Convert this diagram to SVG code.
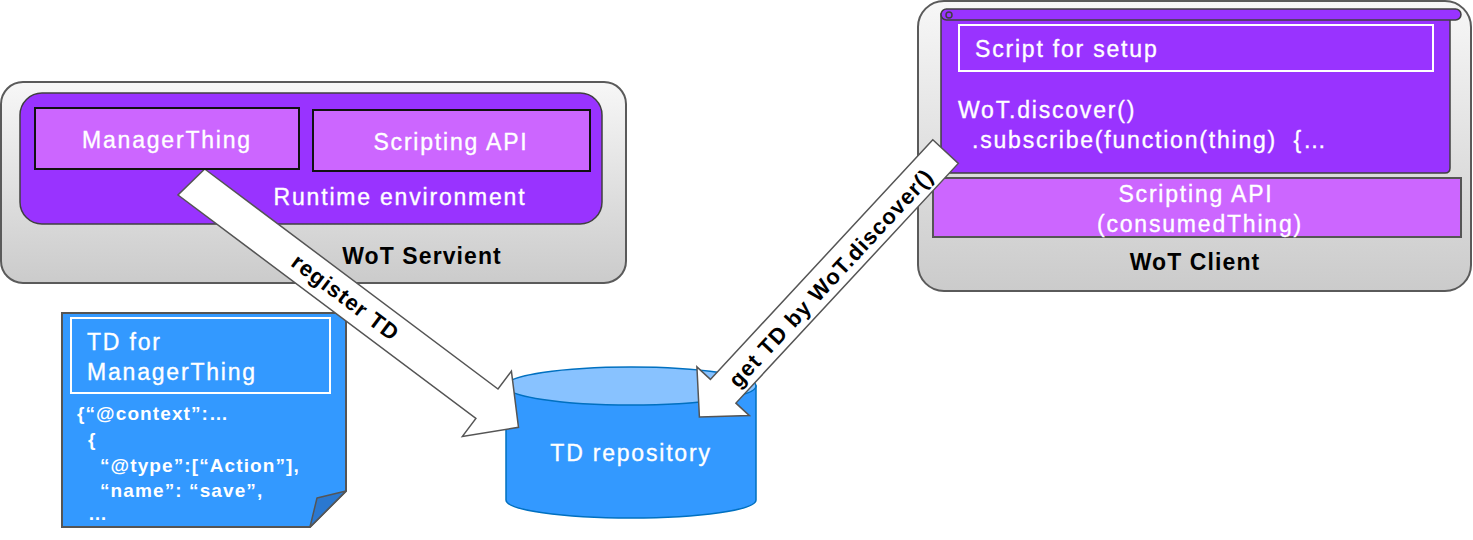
<svg xmlns="http://www.w3.org/2000/svg" width="1473" height="540" viewBox="0 0 1473 540">
<defs>
<linearGradient id="gray" x1="0" y1="0" x2="0" y2="1">
<stop offset="0" stop-color="#f7f7f7"/>
<stop offset="1" stop-color="#cbcbcb"/>
</linearGradient>
<style>
.outer{fill:url(#gray);stroke:#5a5a5a;stroke-width:2}
.dark{fill:#9933ff;stroke:#404040;stroke-width:1.5}
.light{fill:#cc66ff;stroke:#111;stroke-width:2}
.t{font-family:"Liberation Sans",Arial,sans-serif;font-size:23px;letter-spacing:1.8px;fill:#fff;stroke:#fff;stroke-width:0.35}
.b{font-family:"Liberation Sans",Arial,sans-serif;font-size:23px;font-weight:bold;letter-spacing:1.1px;fill:#000}
.code{font-family:"Liberation Sans",Arial,sans-serif;font-size:19px;font-weight:bold;letter-spacing:1.1px;fill:#fff}
.arrow{fill:#fff;stroke:#555;stroke-width:1.5;stroke-linejoin:miter}
.at{font-family:"Liberation Sans",Arial,sans-serif;font-size:22px;font-weight:bold;letter-spacing:1.1px;fill:#000}
</style>
</defs>
<rect width="1473" height="540" fill="#fff"/>

<g id="wot-servient">
<rect class="outer" x="1" y="82" width="625" height="201" rx="22"/>
<rect class="dark" x="20" y="93" width="582" height="131" rx="22"/>
<text class="b" x="422" y="264" text-anchor="middle">WoT Servient</text>
<text class="t" x="400" y="205" text-anchor="middle">Runtime environment</text>
</g>

<g id="scripting-api-servient">
<rect class="light" x="313" y="110" width="277" height="61"/>
<text class="t" x="451" y="150" text-anchor="middle">Scripting API</text>
</g>

<g id="wot-client">
<rect class="outer" x="918" y="1" width="553" height="290" rx="26"/>
<path class="dark" d="M941,14 H1450 V168 Q1450,173 1445,173 H941 Z"/>
<rect class="dark" x="941" y="9" width="520" height="11" rx="5.5"/>
<circle cx="949" cy="15" r="3" fill="none" stroke="#404040" stroke-width="1.5"/>
<rect x="959" y="25" width="474" height="46" fill="none" stroke="#fff" stroke-width="2"/>
<text class="t" x="975" y="57">Script for setup</text>
<text class="t" x="958" y="118">WoT.discover()</text>
<text class="t" x="972" y="148" xml:space="preserve">.subscribe(function(thing)  {…</text>
<rect x="933" y="178" width="528" height="59" fill="#cc66ff" stroke="#555" stroke-width="2"/>
<text class="t" x="1196" y="202" text-anchor="middle">Scripting API</text>
<text class="t" x="1200" y="232" text-anchor="middle">(consumedThing)</text>
<text class="b" x="1195" y="270" text-anchor="middle">WoT Client</text>
</g>

<g id="td-document">
<path d="M62,313 H346 V491 L310,527 H62 Z" fill="#3399ff" stroke="#555" stroke-width="2"/>
<path d="M310,527 L317,498 L346,491 Z" fill="#2a78d0" stroke="#555" stroke-width="1.5" stroke-linejoin="round"/>
<rect x="71" y="318" width="259" height="75" fill="none" stroke="#fff" stroke-width="2"/>
<text class="t" x="87" y="350">TD for</text>
<text class="t" x="87" y="380">ManagerThing</text>
<text class="code" x="77" y="420">{“@context”:…</text>
<text class="code" x="88" y="446">{</text>
<text class="code" x="100" y="472">“@type”:[“Action”],</text>
<text class="code" x="100" y="497">“name”: “save”,</text>
<text class="code" x="88" y="520">…</text>
</g>

<g id="td-repository">
<path d="M506,386 V500 A125,18 0 0 0 756,500 V386 Z" fill="#3399ff" stroke="#0070c0" stroke-width="1.5"/>
<ellipse cx="631" cy="386" rx="125" ry="19" fill="#88c2ff" stroke="#0070c0" stroke-width="1.5"/>
<text class="t" x="631" y="461" text-anchor="middle">TD repository</text>
</g>

<g id="connectors">
<polygon class="arrow" points="204.7,169 498,389 511.4,371.1 518.5,427.3 462.4,436.4 475.9,418.5 178,195"/>
<text class="at" x="0" y="0" text-anchor="middle" dominant-baseline="central" transform="translate(345.5,297.6) rotate(36.87)">register TD</text>
<polygon class="arrow" points="932.8,139.8 710.4,379.4 696.9,366.9 699.4,417 749.4,415.6 735.9,403.1 958.3,163.4"/>
<text class="at" x="0" y="0" text-anchor="middle" dominant-baseline="central" transform="translate(831,278) rotate(-47.1)">get TD by WoT.discover()</text>
</g>

<g id="manager-thing">
<rect class="light" x="35" y="108" width="264" height="61"/>
<text class="t" x="167" y="148" text-anchor="middle">ManagerThing</text>
</g>
</svg>
